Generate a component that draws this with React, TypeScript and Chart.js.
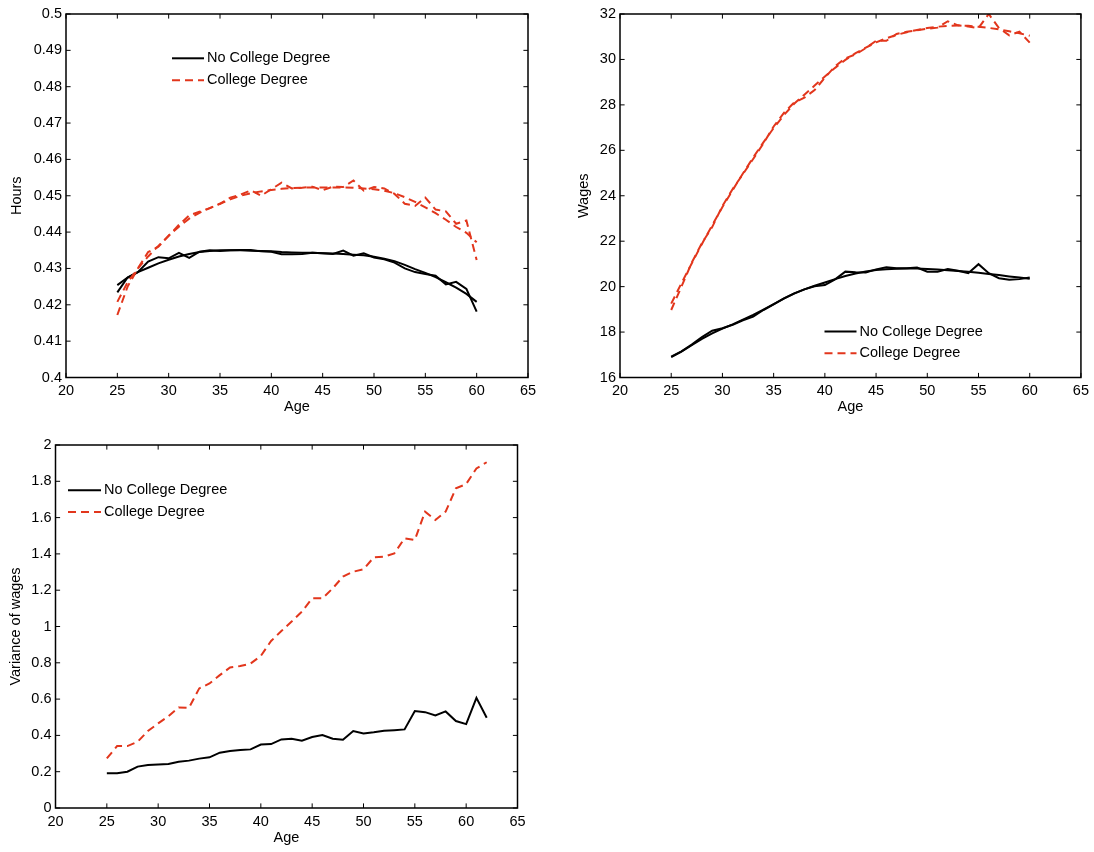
import React, { useEffect, useRef } from "react";
import { Chart, registerables } from "chart.js";

Chart.register(...registerables);

const FONT = '"Liberation Sans", Arial, Helvetica, sans-serif';
const FONT_SIZE = 14.5;
const RED = "#e2361c";
const BLACK = "#000000";

// ---------- categories ----------
const ages = [25, 26, 27, 28, 29, 30, 31, 32, 33, 34, 35, 36, 37, 38, 39, 40, 41, 42, 43, 44, 45, 46, 47, 48, 49, 50, 51, 52, 53, 54, 55, 56, 57, 58, 59, 60];
const varAges = [25, 26, 27, 28, 29, 30, 31, 32, 33, 34, 35, 36, 37, 38, 39, 40, 41, 42, 43, 44, 45, 46, 47, 48, 49, 50, 51, 52, 53, 54, 55, 56, 57, 58, 59, 60, 61, 62];

// ---------- Hours ----------
const hoursNoCollegeData = [0.4234, 0.4275, 0.429, 0.4319, 0.4331, 0.4328, 0.4343, 0.4329, 0.4346, 0.435, 0.4348, 0.435, 0.4351, 0.4351, 0.4347, 0.4346, 0.4339, 0.4339, 0.434, 0.4343, 0.4342, 0.434, 0.4349, 0.4335, 0.4342, 0.433, 0.4325, 0.4316, 0.43, 0.429, 0.4285, 0.428, 0.4256, 0.4263, 0.4244, 0.4181];
const hoursNoCollegeModel = [0.4254, 0.4275, 0.429, 0.4302, 0.4314, 0.4324, 0.4333, 0.434, 0.4345, 0.4348, 0.435, 0.435, 0.435, 0.4349, 0.4348, 0.4347, 0.4345, 0.4344, 0.4343, 0.4343, 0.4342, 0.4341, 0.434, 0.4338, 0.4336, 0.4332, 0.4327, 0.432, 0.431, 0.4298, 0.4288, 0.4276, 0.4262, 0.4247, 0.423, 0.4208];
const hoursCollegeData = [0.4172, 0.425, 0.43, 0.4345, 0.436, 0.439, 0.442, 0.4446, 0.4456, 0.4466, 0.4478, 0.4495, 0.4503, 0.4515, 0.45, 0.4518, 0.4536, 0.452, 0.4522, 0.4525, 0.4515, 0.4525, 0.4524, 0.4542, 0.4514, 0.4524, 0.452, 0.4505, 0.4478, 0.4472, 0.4495, 0.4462, 0.4457, 0.4423, 0.4432, 0.4323];
const hoursCollegeModel = [0.4208, 0.4262, 0.43, 0.4333, 0.4362, 0.439, 0.4415, 0.4437, 0.4453, 0.4466, 0.4478, 0.449, 0.45, 0.4507, 0.4512, 0.4516, 0.4519, 0.4521, 0.4522, 0.4523, 0.4523, 0.4523, 0.4523, 0.4522, 0.452, 0.4518, 0.4514, 0.4507, 0.4496, 0.4483, 0.4468, 0.4452, 0.4434, 0.4414, 0.4398, 0.4372];

// ---------- Wages ----------
const wagesNoCollegeData = [16.92, 17.15, 17.45, 17.78, 18.06, 18.17, 18.32, 18.52, 18.68, 18.97, 19.22, 19.48, 19.7, 19.88, 20.02, 20.07, 20.32, 20.66, 20.63, 20.62, 20.76, 20.85, 20.81, 20.81, 20.84, 20.66, 20.66, 20.77, 20.7, 20.59, 20.99, 20.59, 20.37, 20.3, 20.33, 20.4];
const wagesNoCollegeModel = [16.9, 17.14, 17.42, 17.7, 17.94, 18.15, 18.34, 18.55, 18.76, 18.99, 19.23, 19.47, 19.69, 19.88, 20.04, 20.18, 20.33, 20.47, 20.58, 20.67, 20.73, 20.77, 20.79, 20.8, 20.8, 20.78, 20.75, 20.72, 20.69, 20.65, 20.61, 20.56, 20.51, 20.45, 20.4, 20.35];
const wagesCollegeData = [18.97, 20.0, 21.05, 21.92, 22.62, 23.55, 24.3, 24.95, 25.62, 26.3, 27.05, 27.65, 28.1, 28.32, 28.65, 29.2, 29.7, 30.05, 30.22, 30.5, 30.82, 30.82, 31.12, 31.22, 31.28, 31.35, 31.4, 31.68, 31.5, 31.45, 31.38, 32.0, 31.38, 31.06, 31.22, 30.74];
const wagesCollegeModel = [19.25, 20.15, 21.02, 21.88, 22.7, 23.5, 24.25, 24.98, 25.68, 26.35, 26.98, 27.55, 28.05, 28.45, 28.85, 29.25, 29.63, 29.98, 30.28, 30.52, 30.75, 30.93, 31.08, 31.2, 31.3, 31.38, 31.44, 31.48, 31.49, 31.48, 31.44, 31.39, 31.32, 31.24, 31.15, 31.04];

// ---------- Variance of wages ----------
const varNoCollege = [0.191, 0.191, 0.2, 0.228, 0.237, 0.24, 0.242, 0.255, 0.261, 0.272, 0.279, 0.305, 0.314, 0.319, 0.323, 0.35, 0.352, 0.378, 0.382, 0.371, 0.391, 0.402, 0.382, 0.376, 0.424, 0.411, 0.417, 0.426, 0.429, 0.433, 0.534, 0.528, 0.51, 0.532, 0.479, 0.462, 0.607, 0.497];
const varCollege = [0.273, 0.341, 0.341, 0.365, 0.424, 0.466, 0.506, 0.554, 0.552, 0.659, 0.686, 0.732, 0.774, 0.782, 0.796, 0.838, 0.92, 0.975, 1.027, 1.082, 1.155, 1.155, 1.21, 1.275, 1.302, 1.315, 1.381, 1.385, 1.403, 1.486, 1.477, 1.633, 1.587, 1.633, 1.761, 1.785, 1.871, 1.905];

// ---------- ticks ----------
const ageTicks = [20, 25, 30, 35, 40, 45, 50, 55, 60, 65];
const ageTickLabels = ["20", "25", "30", "35", "40", "45", "50", "55", "60", "65"];
const hoursTicks = [0.4, 0.41, 0.42, 0.43, 0.44, 0.45, 0.46, 0.47, 0.48, 0.49, 0.5];
const hoursTickLabels = ["0.4", "0.41", "0.42", "0.43", "0.44", "0.45", "0.46", "0.47", "0.48", "0.49", "0.5"];
const wagesTicks = [16, 18, 20, 22, 24, 26, 28, 30, 32];
const wagesTickLabels = ["16", "18", "20", "22", "24", "26", "28", "30", "32"];
const varTicks = [0, 0.2, 0.4, 0.6, 0.8, 1, 1.2, 1.4, 1.6, 1.8, 2];
const varTickLabels = ["0", "0.2", "0.4", "0.6", "0.8", "1", "1.2", "1.4", "1.6", "1.8", "2"];

const legendLabels = ["No College Degree", "College Degree"];

const framePlugin = {
  id: "matlabFrame",
  afterDatasetsDraw(chart: any, _args: any, opts: any) {
    const { ctx, chartArea: a, scales } = chart;
    ctx.save();
    ctx.strokeStyle = "#000";
    ctx.setLineDash([]);
    ctx.lineWidth = 1;
    const tl = 4.6;
    ctx.beginPath();
    for (const t of scales.x.ticks) {
      const px = scales.x.getPixelForValue(t.value);
      ctx.moveTo(px, a.bottom);
      ctx.lineTo(px, a.bottom - tl);
      ctx.moveTo(px, a.top);
      ctx.lineTo(px, a.top + tl);
    }
    for (const t of scales.y.ticks) {
      const py = scales.y.getPixelForValue(t.value);
      ctx.moveTo(a.left, py);
      ctx.lineTo(a.left + tl, py);
      ctx.moveTo(a.right, py);
      ctx.lineTo(a.right - tl, py);
    }
    ctx.stroke();
    ctx.lineWidth = 1.5;
    ctx.strokeRect(a.left, a.top, a.right - a.left, a.bottom - a.top);

    const lg = opts.legend;
    if (lg) {
      ctx.font = `${FONT_SIZE}px ${FONT}`;
      ctx.textBaseline = "middle";
      ctx.textAlign = "left";
      legendLabels.forEach((label, i) => {
        const ds = chart.data.datasets[i];
        const y = lg.y + i * lg.dy;
        ctx.strokeStyle = ds.borderColor;
        ctx.lineWidth = ds.borderWidth;
        ctx.setLineDash(ds.borderDash || []);
        ctx.beginPath();
        ctx.moveTo(lg.x, y);
        ctx.lineTo(lg.x + lg.len, y);
        ctx.stroke();
        ctx.setLineDash([]);
        ctx.fillStyle = "#000";
        ctx.fillText(label, lg.x + lg.len + 3, y);
      });
    }
    ctx.restore();
  },
};

type Series = { x: number[]; y: number[]; color: string; dashed: boolean };

type PanelProps = {
  left: number;
  top: number;
  width: number;
  height: number;
  series: Series[];
  yMin: number;
  yMax: number;
  yTicks: number[];
  yTickLabels: string[];
  yTitle: string;
  pad: { left: number; right: number; top: number; bottom: number };
  yWidth: number;
  xHeight: number;
  legend: { x: number; y: number; dy: number; len: number };
};

function Panel(p: PanelProps) {
  const ref = useRef<HTMLCanvasElement | null>(null);
  useEffect(() => {
    if (!ref.current) return;
    const font = { family: FONT, size: FONT_SIZE, lineHeight: 1.2 };
    const chart = new Chart(ref.current, {
      type: "line",
      data: {
        datasets: p.series.map((s, i) => ({
          label: i < legendLabels.length ? legendLabels[i] : "",
          data: s.x.map((x, k) => ({ x, y: s.y[k] })),
          borderColor: s.color,
          backgroundColor: s.color,
          borderWidth: 2,
          borderDash: s.dashed ? [8, 5] : [],
          pointRadius: 0,
          tension: 0,
          fill: false,
          order: s.color === RED ? 0 : 1,
        })),
      },
      options: {
        animation: false,
        responsive: false,
        devicePixelRatio: 1,
        layout: { padding: p.pad },
        plugins: {
          legend: { display: false },
          tooltip: { enabled: false },
          matlabFrame: { legend: p.legend },
        } as any,
        scales: {
          x: {
            type: "linear",
            min: 20,
            max: 65,
            grid: { display: false, drawTicks: false },
            border: { display: false },
            afterBuildTicks: (s: any) => {
              s.ticks = ageTicks.map((v) => ({ value: v }));
            },
            afterFit: (s: any) => {
              s.height = p.xHeight;
            },
            ticks: {
              autoSkip: false,
              maxRotation: 0,
              padding: 5,
              color: "#000",
              font,
              callback: (_v: any, i: number) => ageTickLabels[i],
            },
            title: { display: true, text: "Age", color: "#000", font, padding: 0 },
          },
          y: {
            type: "linear",
            min: p.yMin,
            max: p.yMax,
            grid: { display: false, drawTicks: false },
            border: { display: false },
            afterBuildTicks: (s: any) => {
              s.ticks = p.yTicks.map((v) => ({ value: v }));
            },
            afterFit: (s: any) => {
              s.width = p.yWidth;
            },
            ticks: {
              autoSkip: false,
              padding: 4,
              color: "#000",
              font,
              callback: (_v: any, i: number) => p.yTickLabels[i],
            },
            title: { display: true, text: p.yTitle, color: "#000", font, padding: 0 },
          },
        },
      } as any,
      plugins: [framePlugin],
    });
    return () => chart.destroy();
  }, []);
  return (
    <canvas
      ref={ref}
      width={p.width}
      height={p.height}
      style={{ position: "absolute", left: p.left, top: p.top, width: p.width, height: p.height }}
    />
  );
}

export default function App() {
  return (
    <div style={{ position: "absolute", left: 0, top: 0, width: 1094, height: 852, background: "#fff", overflow: "hidden" }}>
      <Panel
        left={0}
        top={0}
        width={547}
        height={420}
        series={[
          { x: ages, y: hoursNoCollegeData, color: BLACK, dashed: false },
          { x: ages, y: hoursCollegeData, color: RED, dashed: true },
          { x: ages, y: hoursNoCollegeModel, color: BLACK, dashed: false },
          { x: ages, y: hoursCollegeModel, color: RED, dashed: true },
        ]}
        yMin={0.4}
        yMax={0.5}
        yTicks={hoursTicks}
        yTickLabels={hoursTickLabels}
        yTitle="Hours"
        pad={{ left: 8, right: 19, top: 14, bottom: 4.3 }}
        yWidth={58}
        xHeight={38.2}
        legend={{ x: 172, y: 58.3, dy: 22, len: 32 }}
      />
      <Panel
        left={547}
        top={0}
        width={547}
        height={420}
        series={[
          { x: ages, y: wagesNoCollegeData, color: BLACK, dashed: false },
          { x: ages, y: wagesCollegeData, color: RED, dashed: true },
          { x: ages, y: wagesNoCollegeModel, color: BLACK, dashed: false },
          { x: ages, y: wagesCollegeModel, color: RED, dashed: true },
        ]}
        yMin={16}
        yMax={32}
        yTicks={wagesTicks}
        yTickLabels={wagesTickLabels}
        yTitle="Wages"
        pad={{ left: 28, right: 13, top: 14, bottom: 4.3 }}
        yWidth={45}
        xHeight={38.2}
        legend={{ x: 277.5, y: 331.5, dy: 21.7, len: 32 }}
      />
      <Panel
        left={0}
        top={425}
        width={547}
        height={427}
        series={[
          { x: varAges, y: varNoCollege, color: BLACK, dashed: false },
          { x: varAges, y: varCollege, color: RED, dashed: true },
        ]}
        yMin={0}
        yMax={2}
        yTicks={varTicks}
        yTickLabels={varTickLabels}
        yTitle="Variance of wages"
        pad={{ left: 7.3, right: 29.5, top: 20, bottom: 5.3 }}
        yWidth={48.2}
        xHeight={38.7}
        legend={{ x: 68, y: 65.3, dy: 21.7, len: 33 }}
      />
    </div>
  );
}
